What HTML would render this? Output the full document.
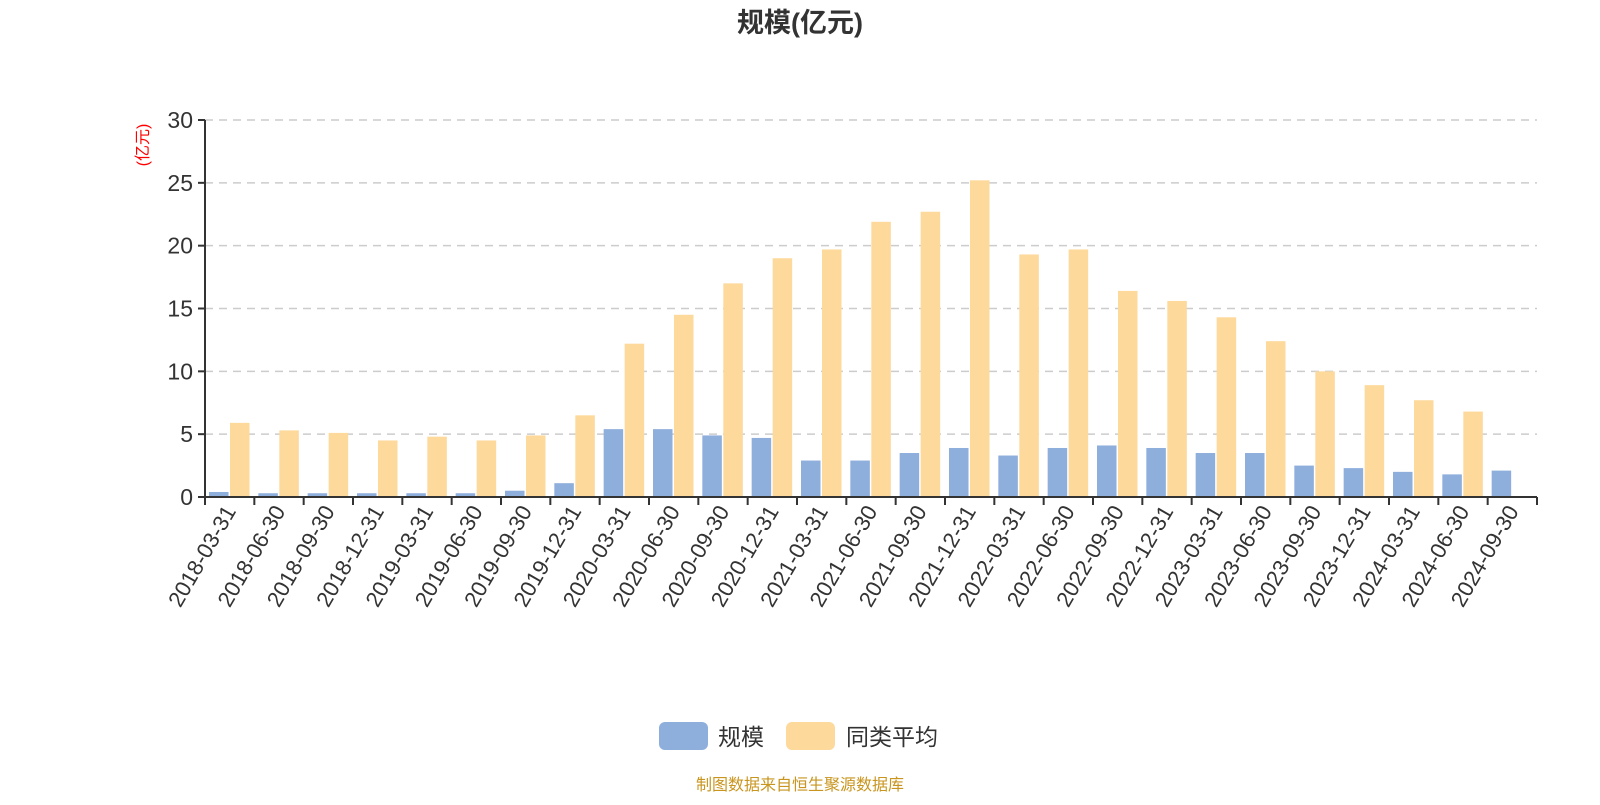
<!DOCTYPE html>
<html><head><meta charset="utf-8"><style>
body{margin:0;background:#fff;}
svg text{font-family:"Liberation Sans","Noto Sans CJK SC",sans-serif;}
</style></head><body>
<svg width="1600" height="800" viewBox="0 0 1600 800" xmlns="http://www.w3.org/2000/svg">
<text x="800" y="32" text-anchor="middle" font-size="27" font-weight="bold" fill="#333">规模(亿元)</text>
<text transform="translate(148,145) rotate(-90)" text-anchor="middle" font-size="16" fill="#f00">(亿元)</text>
<g id="grid"></g><g id="bars"></g><g id="axes"></g>
<g>
<g><rect x="659" y="722" width="49" height="28" rx="6" fill="#8eaedc"/><text x="718" y="745" font-size="23" fill="#333">规模</text></g>
<g><rect x="786" y="722" width="49" height="28" rx="6" fill="#fdd99b"/><text x="846" y="745" font-size="23" fill="#333">同类平均</text></g>
</g>
<text x="800" y="790" text-anchor="middle" font-size="16" fill="#c8951e">制图数据来自恒生聚源数据库</text>
</svg>
<script>
const categories=["2018-03-31","2018-06-30","2018-09-30","2018-12-31","2019-03-31","2019-06-30","2019-09-30","2019-12-31","2020-03-31","2020-06-30","2020-09-30","2020-12-31","2021-03-31","2021-06-30","2021-09-30","2021-12-31","2022-03-31","2022-06-30","2022-09-30","2022-12-31","2023-03-31","2023-06-30","2023-09-30","2023-12-31","2024-03-31","2024-06-30","2024-09-30"];
const scaleValues=[0.4,0.3,0.3,0.3,0.3,0.3,0.5,1.1,5.4,5.4,4.9,4.7,2.9,2.9,3.5,3.9,3.3,3.9,4.1,3.9,3.5,3.5,2.5,2.3,2.0,1.8,2.1];
const peerValues=[5.9,5.3,5.1,4.5,4.8,4.5,4.9,6.5,12.2,14.5,17.0,19.0,19.7,21.9,22.7,25.2,19.3,19.7,16.4,15.6,14.3,12.4,10.0,8.9,7.7,6.8,null];
const yTicks=[0,5,10,15,20,25,30];
const NS="http://www.w3.org/2000/svg";
const x0=205,x1=1537,y0=497,y1=120,yMax=30;
const bw=(x1-x0)/categories.length;
const ys=v=>y0-(v/yMax)*(y0-y1);
function mk(tag,attrs,parent){const e=document.createElementNS(NS,tag);for(const k in attrs)e.setAttribute(k,attrs[k]);parent.appendChild(e);return e;}
const grid=document.getElementById('grid'),bars=document.getElementById('bars'),axes=document.getElementById('axes');
yTicks.forEach(t=>{
  const y=ys(t);
  if(t>0){const l=mk('line',{x1:x0,x2:x1,y1:y,y2:y,stroke:'#ccc','stroke-dasharray':'8,6','stroke-width':1.5},grid);
  
  }
  const tk=mk('line',{x1:x0-7,x2:x0,y1:y,y2:y,stroke:'#333','stroke-width':2},axes);
  
  
  const tx=mk('text',{x:x0-12,y:y+8,'text-anchor':'end','font-size':23,fill:'#333'},axes);
  
  
  tx.textContent=t;
});
categories.forEach((c,i)=>{
  const bx=x0+i*bw;
  if(scaleValues[i]!=null){const r=mk('rect',{x:bx+4,y:ys(scaleValues[i]),width:19.5,height:y0-ys(scaleValues[i]),fill:'#8eaedc'},bars);
  
  }
  if(peerValues[i]!=null){const r=mk('rect',{x:bx+25,y:ys(peerValues[i]),width:19.5,height:y0-ys(peerValues[i]),fill:'#fdd99b'},bars);
  
  }
  const tk=mk('line',{x1:bx,x2:bx,y1:y0,y2:y0+8,stroke:'#333','stroke-width':2},axes);
  
  
  const cx=bx+bw/2+7;
  const tx=mk('text',{x:cx,y:y0+14,'text-anchor':'end','font-size':22,fill:'#333',transform:`rotate(-60 ${cx} ${y0+14})`},axes);
  
  
  tx.textContent=c;
});
const tkEnd=mk('line',{x1:x1,x2:x1,y1:y0,y2:y0+8,stroke:'#333','stroke-width':2},axes);


const xa=mk('line',{x1:x0,x2:x1,y1:y0,y2:y0,stroke:'#333','stroke-width':2},axes);


const ya=mk('line',{x1:x0,x2:x0,y1:y1,y2:y0,stroke:'#333','stroke-width':2},axes);


</script>
</body></html>
